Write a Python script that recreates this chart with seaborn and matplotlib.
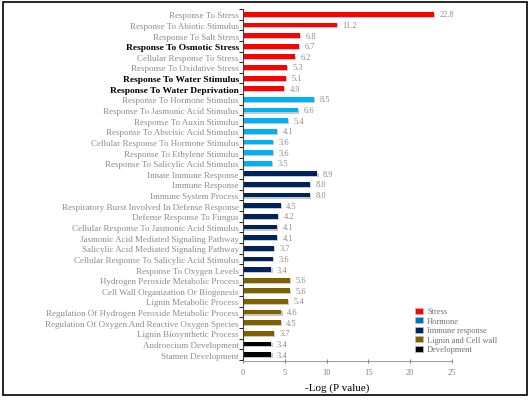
import matplotlib
matplotlib.use("Agg")
import matplotlib.pyplot as plt
import matplotlib.patheffects as pe
from matplotlib.patches import Patch, Rectangle
import seaborn as sns
import pandas as pd

terms = [
    "Response To Stress", "Response To Abiotic Stimulus", "Response To Salt Stress",
    "Response To Osmotic Stress", "Cellular Response To Stress", "Response To Oxidative Stress",
    "Response To Water Stimulus", "Response To Water Deprivation",
    "Response To Hormone Stimulus", "Response To Jasmonic Acid Stimulus",
    "Response To Auxin Stimulus", "Response To Abscisic Acid Stimulus",
    "Cellular Response To Hormone Stimulus", "Response To Ethylene Stimulus",
    "Response To Salicylic Acid Stimulus",
    "Innate Immune Response", "Immune Response", "Immune System Process",
    "Respiratory Burst Involved In Defense Response", "Defense Response To Fungus",
    "Cellular Response To Jasmonic Acid Stimulus", "Jasmonic Acid Mediated Signaling Pathway",
    "Salicylic Acid Mediated Signaling Pathway", "Cellular Response To Salicylic Acid Stimulus",
    "Response To Oxygen Levels",
    "Hydrogen Peroxide Metabolic Process", "Cell Wall Organization Or Biogenesis",
    "Lignin Metabolic Process", "Regulation Of Hydrogen Peroxide Metabolic Process",
    "Regulation Of Oxygen And Reactive Oxygen Species", "Lignin Biosynthetic Process",
    "Androecium Development", "Stamen Development",
]
stress_vals = [22.8, 11.2, 6.8, 6.7, 6.2, 5.3, 5.1, 4.9]
hormone_vals = [8.5, 6.6, 5.4, 4.1, 3.6, 3.6, 3.5]
immune_vals = [8.9, 8.0, 8.0, 4.5, 4.2, 4.1, 4.1, 3.7, 3.6, 3.4]
lignin_vals = [5.6, 5.6, 5.4, 4.6, 4.5, 3.7]
dev_vals = [3.4, 3.4]

groups = ["Stress", "Hormone", "Immune response", "Lignin and Cell wall", "Development"]
bar_colors = ["#ff0000", "#00b0f0", "#002060", "#7f6000", "#000000"]
legend_colors = ["#ff0000", "#0070c0", "#002060", "#7f6000", "#000000"]
bold_terms = ["Response To Osmotic Stress", "Response To Water Stimulus",
              "Response To Water Deprivation"]

all_vals = [stress_vals, hormone_vals, immune_vals, lignin_vals, dev_vals]
df = pd.DataFrame({
    "term": terms,
    "value": sum(all_vals, []),
    "group": sum([[g] * len(v) for g, v in zip(groups, all_vals)], []),
})

plt.rcParams["font.family"] = ["Liberation Serif", "DejaVu Serif"]
fig = plt.figure(figsize=(5.32, 4.02), dpi=100)
ax = fig.add_axes([243 / 532, 1 - 362 / 402, (452 - 243) / 532, (362 - 10) / 402])

sns.barplot(data=df, y="term", x="value", hue="group", hue_order=groups,
            palette=bar_colors, saturation=1, dodge=False, width=0.45, legend=False,
            ax=ax, order=terms)

shadow = [pe.SimplePatchShadow(offset=(0.8, -0.8), shadow_rgbFace="#c8c8c8", alpha=1), pe.Normal()]
for c in ax.containers:
    for p in c:
        p.set_path_effects(shadow)
    ax.bar_label(c, fmt="%.1f", padding=4, fontsize=6, color="#8c8c8c")

ax.set_xlim(0, 25)
ax.set_ylim(32.6, -0.5)
ax.set_xticks([0, 5, 10, 15, 20, 25])
ax.tick_params(axis="x", labelsize=6, colors="#808080", direction="inout", length=3)
ax.tick_params(axis="y", which="major", length=0, pad=3, labelsize=6.5)
ax.set_yticks([i + 0.5 for i in range(-1, len(terms))], minor=True)
ax.tick_params(axis="y", which="minor", length=3, direction="out")
for lbl in ax.get_yticklabels():
    if lbl.get_text() in bold_terms:
        lbl.set_fontweight("bold")
        lbl.set_color("black")
        lbl.set_fontsize(6.8)
    else:
        lbl.set_color("#8c8c8c")
for lbl in ax.get_xticklabels():
    lbl.set_color("#808080")
ax.set_ylabel("")
ax.set_xlabel("-Log (P value)", fontsize=8, labelpad=5)
ax.xaxis.set_label_coords(0.45, -0.06)
for s in ["top", "right"]:
    ax.spines[s].set_visible(False)
ax.spines["bottom"].set_color("#a0a0a0")
ax.spines["left"].set_color("#404040")

handles = [Patch(facecolor=c, edgecolor="#bfbfbf", linewidth=0.5) for c in legend_colors]
fig.legend(handles, groups, loc="upper left", bbox_to_anchor=(407 / 532, 1 - 301 / 402),
           frameon=False, fontsize=6, handlelength=1.0, handleheight=0.7,
           labelspacing=0.18, handletextpad=0.5, labelcolor="#707070")

fig.add_artist(Rectangle((3 / 532, 6 / 402), 524 / 532, 393 / 402, fill=False,
                         edgecolor="black", linewidth=1.2, transform=fig.transFigure))

fig.savefig("out.png", dpi=100)
